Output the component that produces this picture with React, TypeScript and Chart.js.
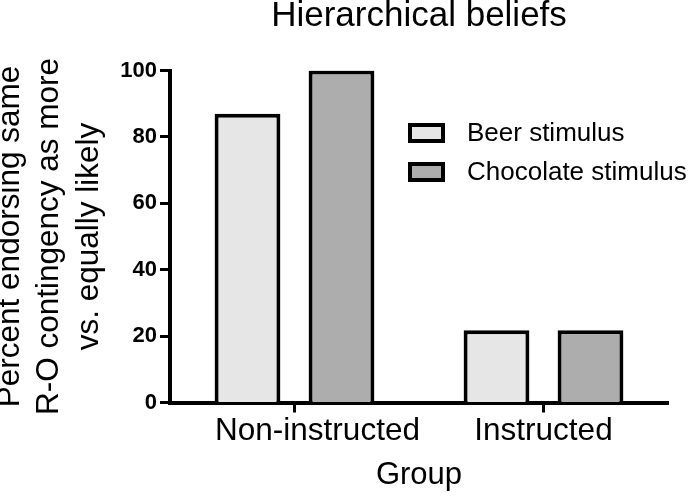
import React, { useEffect, useRef } from "react";
import { Chart, registerables } from "chart.js";

Chart.register(...registerables);

const categories = ["Non-instructed", "Instructed"];
const beerValues = [86.96, 21.74];
const chocolateValues = [100, 21.74];
const seriesLabels = ["Beer stimulus", "Chocolate stimulus"];
const yTicks = [0, 20, 40, 60, 80, 100];
const chartTitle = "Hierarchical beliefs";
const yTitle = ["Percent endorsing same", "R-O contingency as more", "vs. equally likely"];
const xTitle = "Group";

const FONT = "'Liberation Sans', Arial, Helvetica, sans-serif";
// horizontal shift of each category label relative to its tick (style only)
const LABEL_SHIFT = [23, 0];

const legendPlugin = {
  id: "customLegend",
  afterDraw(chart: any) {
    const ctx = chart.ctx;
    const boxX = 408;
    const boxW = 37;
    const boxH = 20;
    const rows = [123, 162];
    ctx.save();
    chart.data.datasets.forEach((ds: any, i: number) => {
      const y = rows[i];
      ctx.fillStyle = ds.backgroundColor;
      ctx.fillRect(boxX, y, boxW, boxH);
      ctx.lineWidth = 4;
      ctx.strokeStyle = "#000";
      ctx.strokeRect(boxX + 2, y + 2, boxW - 4, boxH - 4);
      ctx.fillStyle = "#000";
      ctx.font = `26px ${FONT}`;
      ctx.textAlign = "left";
      ctx.textBaseline = "middle";
      ctx.fillText(ds.label, 467, y + boxH / 2 + 1);
    });
    ctx.restore();
  },
};

const xLabelPlugin = {
  id: "xLabels",
  afterDraw(chart: any) {
    const ctx = chart.ctx;
    const xs = chart.scales.x;
    ctx.save();
    ctx.fillStyle = "#000";
    ctx.font = `31.5px ${FONT}`;
    ctx.textAlign = "center";
    ctx.textBaseline = "middle";
    (chart.data.labels as string[]).forEach((lab, i) => {
      const x = xs.getPixelForValue(i) + (LABEL_SHIFT[i] || 0);
      ctx.fillText(lab, x, xs.top + 28.5);
    });
    ctx.restore();
  },
};

export default function App() {
  const ref = useRef<HTMLCanvasElement | null>(null);

  useEffect(() => {
    document.body.style.margin = "0";
    if (!ref.current) return;
    const chart = new Chart(ref.current, {
      type: "bar",
      data: {
        labels: categories,
        datasets: [
          {
            label: seriesLabels[0],
            data: beerValues,
            backgroundColor: "#e6e6e6",
            borderColor: "#000",
            borderWidth: 4,
          },
          {
            label: seriesLabels[1],
            data: chocolateValues,
            backgroundColor: "#adadad",
            borderColor: "#000",
            borderWidth: 4,
          },
        ],
      },
      options: {
        animation: false,
        responsive: true,
        maintainAspectRatio: false,
        datasets: {
          bar: { categoryPercentage: 0.755, barPercentage: 0.7 },
        },
        layout: { padding: { left: 0, right: 25, top: 0, bottom: 0 } },
        plugins: {
          legend: { display: false },
          tooltip: { enabled: false },
          title: {
            display: true,
            text: chartTitle,
            fullSize: false,
            color: "#000",
            font: { family: FONT, size: 35, weight: "normal", lineHeight: 1 },
            padding: { top: -1.5, bottom: 37 },
          },
        },
        scales: {
          x: {
            afterFit: (s: any) => {
              s.height = 93.5;
            },
            grid: {
              display: true,
              offset: false,
              drawOnChartArea: false,
              drawTicks: true,
              tickLength: 10,
              tickWidth: 3,
              tickColor: "#000",
              color: "#000",
            },
            border: { display: true, color: "#000", width: 4 },
            ticks: {
              display: false,
              color: "#000",
              padding: 0,
              font: { family: FONT, size: 31.5, lineHeight: 1.2 },
            },
            title: {
              display: true,
              text: xTitle,
              color: "#000",
              font: { family: FONT, size: 31, lineHeight: 1.2 },
              padding: { top: 0, bottom: 2 },
            },
          },
          y: {
            min: 0,
            max: 100,
            afterFit: (s: any) => {
              s.width = 170;
            },
            afterBuildTicks: (s: any) => {
              s.ticks = yTicks.map((v) => ({ value: v }));
            },
            grid: {
              display: true,
              drawOnChartArea: false,
              drawTicks: true,
              tickLength: 10,
              tickWidth: 3,
              tickColor: "#000",
              color: "#000",
            },
            border: { display: true, color: "#000", width: 4 },
            ticks: {
              color: "#000",
              padding: 3,
              font: { family: FONT, size: 22, weight: "bold", lineHeight: 1.2 },
            },
            title: {
              display: true,
              text: yTitle,
              color: "#000",
              font: { family: FONT, size: 31.5, lineHeight: 1.25 },
              padding: { top: -9.5, bottom: 0 },
            },
          },
        },
      },
      plugins: [legendPlugin, xLabelPlugin],
    });
    return () => chart.destroy();
  }, []);

  return (
    <div style={{ position: "relative", width: 693, height: 496 }}>
      <canvas ref={ref} />
    </div>
  );
}
